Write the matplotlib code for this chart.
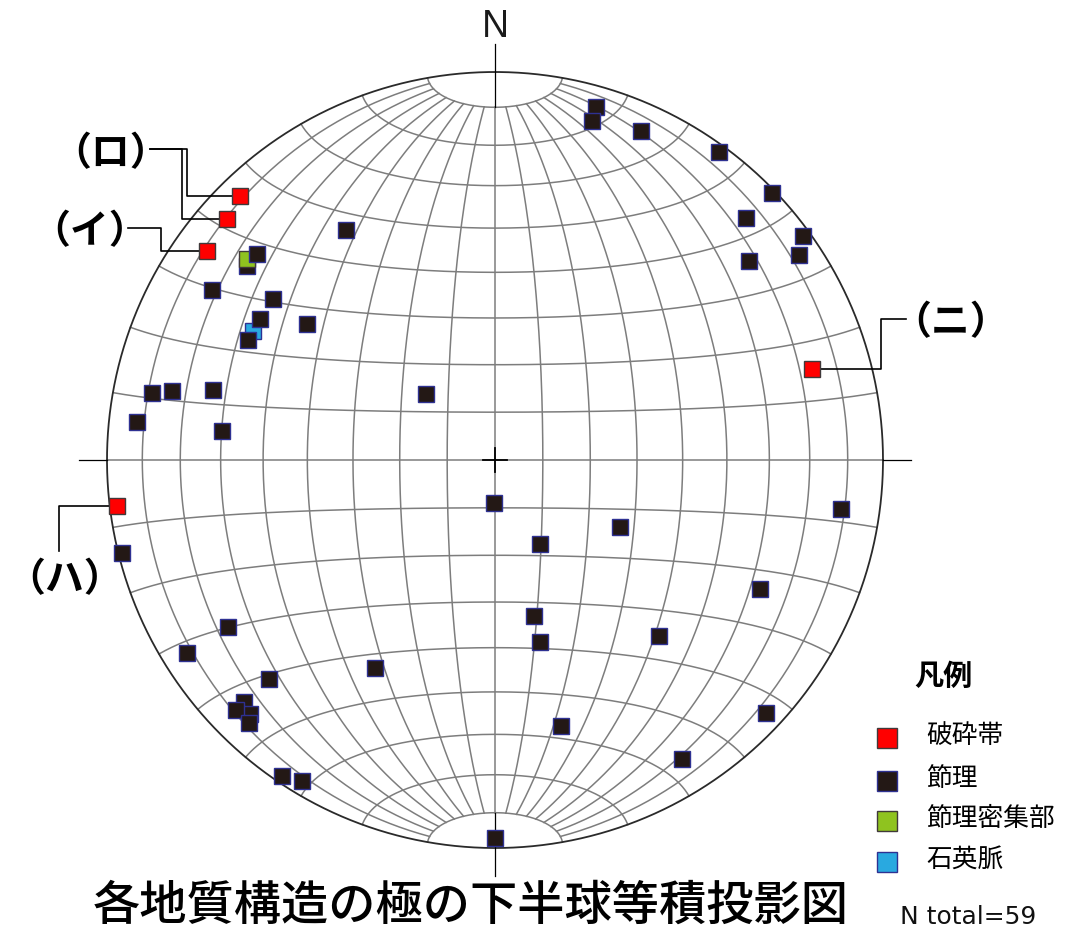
import numpy as np
import matplotlib
matplotlib.use('Agg')
import matplotlib.pyplot as plt

plt.rcParams['font.family'] = ['Noto Sans CJK JP', 'DejaVu Sans']


# poles to planes, lower hemisphere (trend, plunge in degrees)
# F = 破砕帯, J = 節理, D = 節理密集部, Q = 石英脈  (listed in drawing order)
pole_trend = [316, 312, 306, 263, 74,
              16, 16, 24, 36, 46, 46, 54, 56, 52,
              327, 308, 301, 306, 306,
              281, 282, 284, 314, 276, 276,
              181, 152, 118, 98, 116, 166, 166, 137, 133, 166, 148, 180,
              256, 238, 238, 226, 210, 226, 224, 226, 223, 214, 211,
              309, 298,
              311, 301, 296]
pole_plunge = [6, 8, 9, 2, 16,
               6, 10, 8, 2, 1, 11, 2, 6, 18,
               30, 20, 16, 30, 40,
               11, 16, 26, 70, 8, 30,
               81, 70, 60, 11, 25, 56, 50, 38, 5, 30, 10, 3,
               1, 20, 7, 20, 38, 11, 10, 8, 8, 2, 4,
               19, 30,
               20, 30, 30]
pole_kind = list('FFFFF' + 'J' * 43 + 'DQ' + 'JJJ')

# fault zone labels, one per F pole in the order above
fault_labels = ['ロ', 'ロ', 'イ', 'ハ', 'ニ']

kind_names = {'F': '破砕帯', 'J': '節理', 'D': '節理密集部', 'Q': '石英脈'}
kind_face = {'F': '#ff0000', 'J': '#231815', 'D': '#8fc31f', 'Q': '#29a9e0'}
kind_edge = {'F': '#40393a', 'J': '#2e3192', 'D': '#40393a', 'Q': '#2e3192'}
n_total = 59


######################################################################
# projection helpers
######################################################################
R_PX = 388.0
CX, CY = 495.0, 460.0


def px(x, y):
    # page pixel -> net units (radius 1)
    return (x - CX) / R_PX, (CY - y) / R_PX


def pole_xy(trend, plunge):
    # equal area (Schmidt), lower hemisphere
    t = np.radians(np.asarray(trend, float))
    r = np.sqrt(2) * np.sin(np.radians(90 - np.asarray(plunge, float)) / 2)
    return r * np.sin(t), r * np.cos(t)


def net_xy(lat, lon):
    la, lo = np.radians(lat), np.radians(lon)
    x = np.cos(la) * np.sin(lo)
    y = np.sin(la)
    z = np.cos(la) * np.cos(lo)
    k = 1 / np.sqrt(1 + z)
    return x * k, y * k


######################################################################
# figure
######################################################################
fig = plt.figure(figsize=(10.83, 9.31), dpi=100)
ax = fig.add_axes([0, 0, 1, 1])
x0, y1 = px(0, 0)
x1, y0 = px(1083, 931)
ax.set_xlim(x0, x1)
ax.set_ylim(y0, y1)
ax.axis('off')

grid = dict(color='#7d7d7d', lw=1.1, zorder=1)

# great circles, cut at the 80 deg small circle
lat = np.linspace(-80, 80, 200)
for lon in range(-80, 81, 10):
    gx, gy = net_xy(lat, np.full_like(lat, lon))
    ax.plot(gx, gy, **grid)

# small circles
lon = np.linspace(-90, 90, 300)
for la in list(range(-80, 0, 10)) + list(range(0, 81, 10)):
    gx, gy = net_xy(np.full_like(lon, la), lon)
    ax.plot(gx, gy, **grid)

# primitive
a = np.linspace(0, 2 * np.pi, 500)
ax.plot(np.cos(a), np.sin(a), color='#2a2a2a', lw=1.3, zorder=2)

# axes outside the net and inside the polar caps
cap = net_xy(80, 0)[1]
ext = 1.072
for s in (1, -1):
    ax.plot([0, 0], [s * cap, s * ext], color='black', lw=0.9, zorder=2)
    ax.plot([s * 1.0, s * ext], [0, 0], color='black', lw=0.9, zorder=2)
c = 0.031
ax.plot([-c, c], [0, 0], color='black', lw=1.3, zorder=2)
ax.plot([0, 0], [-c, c], color='black', lw=1.3, zorder=2)

ax.text(0, px(0, 37)[1], 'N', family='Liberation Sans', fontsize=27,
        ha='center', va='baseline', color='#1a1a1a')

# poles
pxs, pys = pole_xy(pole_trend, pole_plunge)
for i, k in enumerate(pole_kind):
    ax.plot(pxs[i], pys[i], 's', ms=12, mew=1.0, mfc=kind_face[k],
            mec=kind_edge[k], zorder=5 + i * 0.01)

# fault zone leaders
fx = [pxs[i] for i, k in enumerate(pole_kind) if k == 'F']
fy = [pys[i] for i, k in enumerate(pole_kind) if k == 'F']
lead = dict(color='black', lw=1.2, zorder=4)


def leader(xm, ym, pts):
    xs = [xm] + [p[0] for p in pts]
    ys = [ym] + [p[1] for p in pts]
    ax.plot(xs, ys, **lead)


# (ロ) two branches
for i, xe in ((0, 187), (1, 182)):
    ex = px(xe, 0)[0]
    leader(fx[i], fy[i], [(ex, fy[i]), (ex, px(0, 149)[1]), px(150, 149)])
# (イ)
ex = px(161, 0)[0]
leader(fx[2], fy[2], [(ex, fy[2]), (ex, px(0, 228)[1]), px(128, 228)])
# (ハ)
ex = px(59, 0)[0]
leader(fx[3], fy[3], [(ex, fy[3]), px(59, 551)])
# (ニ)
ex = px(881, 0)[0]
leader(fx[4], fy[4], [(ex, fy[4]), (ex, px(0, 319)[1]), px(906, 319)])

label_pos = {'ロ': (111, 154), 'イ': (90, 232), 'ハ': (65, 580), 'ニ': (951, 323)}
for lab, (lx, ly) in label_pos.items():
    ax.text(*px(lx, ly), '（%s）' % lab, fontsize=28, fontweight='bold',
            ha='center', va='center')

# legend
ax.text(*px(943, 676), '凡例', fontsize=21, fontweight='bold', ha='center', va='center')
leg_y = [738, 781, 821, 862]
for k, yy in zip(['F', 'J', 'D', 'Q'], leg_y):
    ax.plot(*px(887, yy), 's', ms=14.5, mew=1.0, mfc=kind_face[k], mec=kind_edge[k])
    ax.text(*px(926, yy - 2), kind_names[k], fontsize=18.5, ha='left', va='center')

ax.text(*px(900, 917), 'N total=%d' % n_total, family='DejaVu Sans', fontsize=18,
        ha='left', va='center', color='#111111')

ax.text(*px(471, 906), '各地質構造の極の下半球等積投影図', fontsize=34,
        fontweight='medium', ha='center', va='center')

fig.savefig('out.png', dpi=100)
